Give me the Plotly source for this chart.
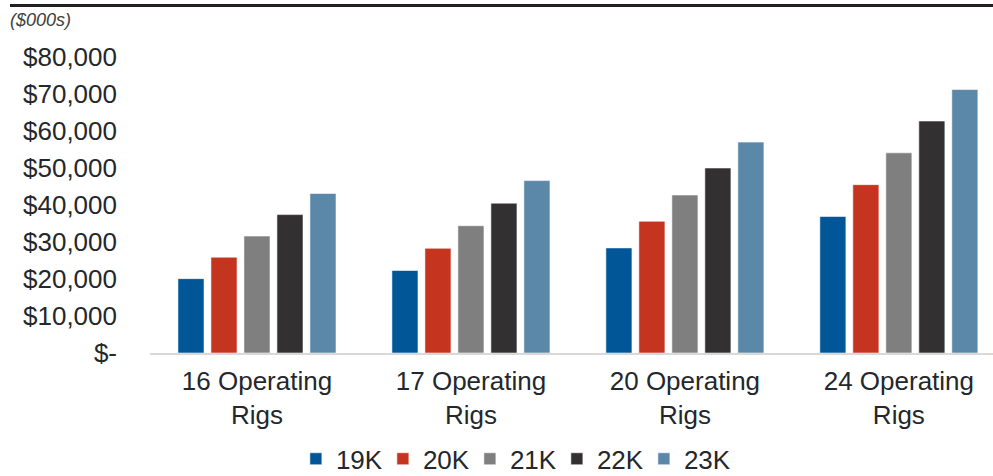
import plotly.graph_objects as go

# Rig-count scenarios on the x axis, day-rate series as grouped bars
categories = ["16 Operating<br>Rigs", "17 Operating<br>Rigs", "20 Operating<br>Rigs", "24 Operating<br>Rigs"]
series_names = ["19K", "20K", "21K", "22K", "23K"]
values_19k = [20100, 22300, 28400, 36900]
values_20k = [25900, 28300, 35600, 45500]
values_21k = [31600, 34400, 42700, 54100]
values_22k = [37400, 40500, 50000, 62700]
values_23k = [43100, 46600, 57000, 71200]
series_values = [values_19k, values_20k, values_21k, values_22k, values_23k]
series_colors = ["#005697", "#C4341F", "#7F7F7F", "#323031", "#5B88A8"]

y_tick_vals = [0, 10000, 20000, 30000, 40000, 50000, 60000, 70000, 80000]
y_tick_text = ["$-", "$10,000", "$20,000", "$30,000", "$40,000",
               "$50,000", "$60,000", "$70,000", "$80,000"]

fig = go.Figure()
for name, vals, color in zip(series_names, series_values, series_colors):
    fig.add_trace(go.Bar(
        name=name,
        x=categories,
        y=vals,
        marker=dict(color=color, line=dict(color="rgba(255,255,255,0.55)", width=1)),
    ))

font_family = "Liberation Sans, Arial, sans-serif"
text_color = "#24272B"

fig.update_layout(
    width=993,
    height=476,
    margin=dict(l=150, r=0, t=57, b=123),
    paper_bgcolor="white",
    plot_bgcolor="white",
    barmode="group",
    bargap=0.229,
    bargroupgap=0.21,
    font=dict(family=font_family, size=26, color=text_color),
    showlegend=True,
    legend=dict(
        orientation="h",
        xref="container", yref="container",
        x=0.517, y=0.036,
        xanchor="center", yanchor="middle",
        font=dict(size=26, color=text_color),
        itemwidth=30,
        entrywidth=42,
        entrywidthmode="pixels",
        tracegroupgap=0,
    ),
    xaxis=dict(
        type="category",
        range=[-0.5, 3.44],
        showgrid=False,
        showline=True,
        linecolor="#D9D9D9",
        linewidth=2,
        ticks="",
        tickfont=dict(size=26, color=text_color),
        ticklabelstandoff=4,
        fixedrange=True,
    ),
    yaxis=dict(
        range=[0, 80000],
        tickvals=y_tick_vals,
        ticktext=y_tick_text,
        showgrid=False,
        zeroline=False,
        showline=False,
        ticks="",
        ticklabelstandoff=32,
        tickfont=dict(size=26, color=text_color),
        fixedrange=True,
    ),
    shapes=[
        dict(type="line", xref="paper", yref="paper",
             x0=-(150 - 10) / 843, x1=1.0,
             y0=1 + (57 - 5.5) / 296, y1=1 + (57 - 5.5) / 296,
             line=dict(color="#231F20", width=3)),
    ],
    annotations=[
        dict(text="<i>($000s)</i>", xref="paper", yref="paper",
             x=-(150 - 8) / 843, y=1 + (57 - 20) / 296,
             xanchor="left", yanchor="middle", showarrow=False,
             font=dict(size=18, color="#404040", family=font_family)),
    ],
)

fig.write_html("out.html")
